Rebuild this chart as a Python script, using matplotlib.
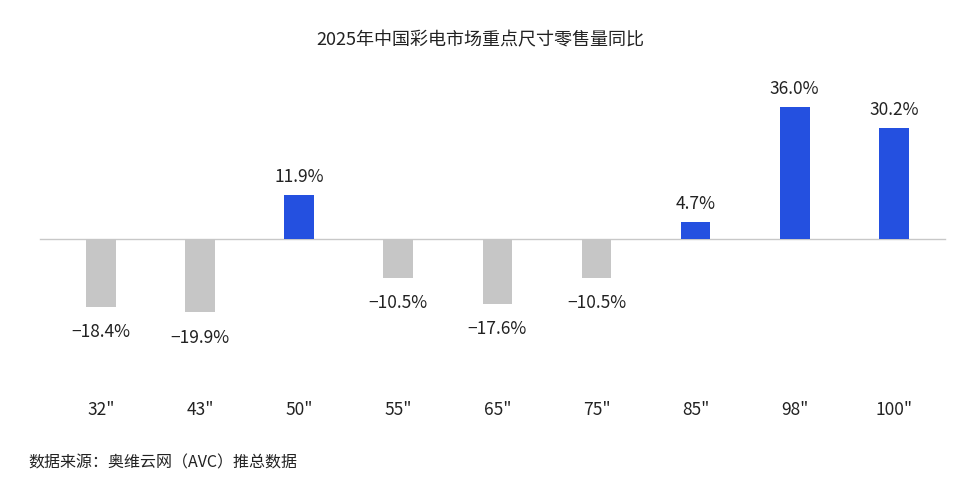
import matplotlib
matplotlib.use("Agg")
import matplotlib.pyplot as plt

plt.rcParams['font.family'] = ['Noto Sans CJK SC', 'DejaVu Sans']

categories = ['32"', '43"', '50"', '55"', '65"', '75"', '85"', '98"', '100"']
values = [-18.4, -19.9, 11.9, -10.5, -17.6, -10.5, 4.7, 36.0, 30.2]
labels = ['−18.4%', '−19.9%', '11.9%', '−10.5%', '−17.6%', '−10.5%', '4.7%', '36.0%', '30.2%']

fig = plt.figure(figsize=(9.6, 4.95), dpi=100)
ax = fig.add_axes([0, 0, 1, 1])
ax.set_xlim(-1.019, 8.668)
ax.set_ylim(-69.8, 65.2)
ax.axis('off')

x = list(range(len(categories)))
colors = ['#2450e0' if v > 0 else '#c6c6c6' for v in values]
ax.bar(x, values, width=0.3, color=colors, zorder=2)
ax.plot([-0.62, 8.52], [0, 0], color='#c8c8c8', lw=1, zorder=1)

for xi, v, lab in zip(x, values, labels):
    if v > 0:
        ax.text(xi, v + 2.5, lab, ha='center', va='bottom', fontsize=12.5, color='#222')
    else:
        ax.text(xi, v - 4.5, lab, ha='center', va='top', fontsize=12.5, color='#222')
    ax.text(xi, -46.6, categories[xi], ha='center', va='center', fontsize=12.5, color='#222')

fig.text(0.5, 1 - 40/495, '2025年中国彩电市场重点尺寸零售量同比', ha='center', va='center', fontsize=13, color='#222')
fig.text(28/960, 1 - 463/495, '数据来源：奥维云网（AVC）推总数据', ha='left', va='center', fontsize=11.5, color='#222')

fig.savefig('out.png', dpi=100)
